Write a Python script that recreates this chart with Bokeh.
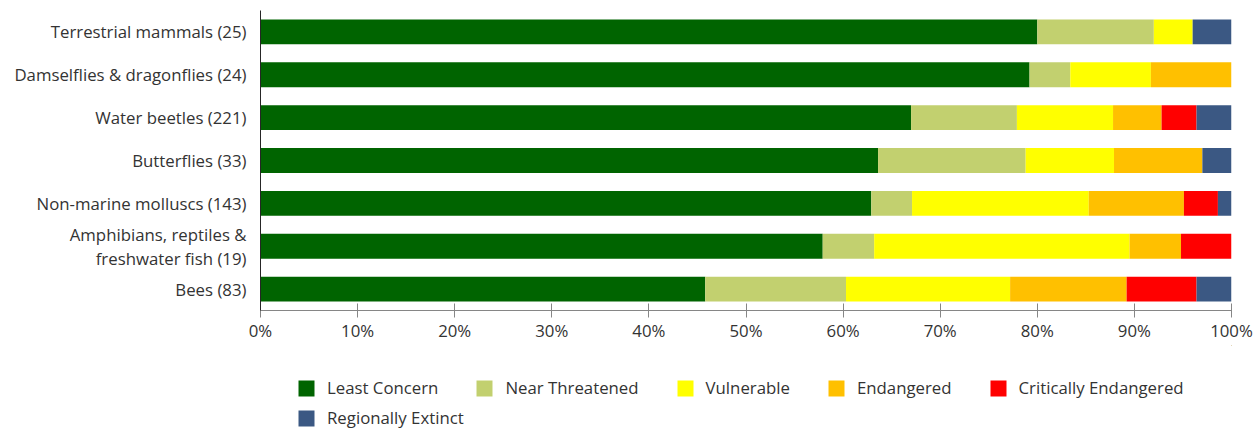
from bokeh.plotting import figure
from bokeh.layouts import column
from bokeh.models import (FactorRange, Range1d, Legend, LegendItem, PrintfTickFormatter,
                          FixedTicker, ColumnDataSource)
from bokeh.embed import file_html
from bokeh.resources import INLINE

groups = ["Terrestrial mammals (25)", "Damselflies & dragonflies (24)", "Water beetles (221)",
          "Butterflies (33)", "Non-marine molluscs (143)",
          "Amphibians, reptiles &\nfreshwater fish (19)", "Bees (83)"]
least_concern = [80.0, 79.2, 67.0, 63.6, 62.9, 57.9, 45.8]
near_threatened = [12.0, 4.2, 10.9, 15.2, 4.2, 5.3, 14.5]
vulnerable = [4.0, 8.3, 9.9, 9.1, 18.2, 26.3, 16.9]
endangered = [0.0, 8.3, 5.0, 9.1, 9.8, 5.3, 12.0]
critically_endangered = [0.0, 0.0, 3.6, 0.0, 3.5, 5.2, 7.2]
regionally_extinct = [4.0, 0.0, 3.6, 3.0, 1.4, 0.0, 3.6]
series_names = ["Least Concern", "Near Threatened", "Vulnerable", "Endangered",
                "Critically Endangered", "Regionally Extinct"]
colors = ["#006400", "#C2D06F", "#FFFF00", "#FFC000", "#FF0000", "#3B5883"]
x_ticks = [0, 10, 20, 30, 40, 50, 60, 70, 80, 90, 100]

keys = ["lc", "nt", "vu", "en", "ce", "re"]
src = ColumnDataSource(dict(group=groups, lc=least_concern, nt=near_threatened, vu=vulnerable,
                            en=endangered, ce=critically_endangered, re=regionally_extinct))

FONT = "Open Sans"
FS = "16.8px"
TXT = "#333333"

p = figure(width=1259, height=345, output_backend="svg", toolbar_location=None,
           y_range=FactorRange(*list(reversed(groups))), x_range=Range1d(0, 100),
           min_border_left=260, min_border_right=28, min_border_top=10, min_border_bottom=35)
p.outline_line_color = None
p.grid.visible = False

rs = p.hbar_stack(keys, y="group", height=0.58, source=src, color=colors, line_color=None)

xa = p.xaxis[0]
xa.ticker = FixedTicker(ticks=x_ticks)
xa.formatter = PrintfTickFormatter(format="%d%%")
xa.axis_line_color = "#868686"
xa.major_tick_line_color = "#868686"
xa.major_tick_in = 7
xa.major_tick_out = 7
xa.minor_tick_line_color = None
xa.major_label_text_font = FONT
xa.major_label_text_font_size = FS
xa.major_label_text_color = TXT
xa.major_label_standoff = 1

ya = p.yaxis[0]
ya.axis_line_color = "#262626"
ya.major_tick_line_color = None
ya.minor_tick_line_color = None
ya.major_label_text_font = FONT
ya.major_label_text_font_size = FS
ya.major_label_text_color = TXT
ya.major_label_text_line_height = 1.03
ya.major_label_standoff = 8

# legend strip below the chart (its frame is aligned with the chart's frame)
lf = figure(width=1259, height=83, output_backend="svg", toolbar_location=None,
            x_range=Range1d(0, 1), y_range=Range1d(0, 1), x_axis_type=None, y_axis_type=None,
            min_border_left=0, min_border_right=0, min_border_top=0, min_border_bottom=0)
lf.outline_line_color = None
lf.grid.visible = False
# legend swatch proxies, kept outside the visible range
proxy_src = ColumnDataSource(dict(y=[5], left=[5], right=[6]))
proxies = [lf.hbar(y="y", left="left", right="right", height=0.5, source=proxy_src,
                   color=c, line_color=None) for c in colors]

def mk_legend(items, loc):
    return Legend(items=items, orientation="horizontal", location=loc,
                  glyph_width=20, glyph_height=20, label_standoff=11, spacing=36,
                  label_text_font=FONT, label_text_font_size=FS, label_text_color=TXT,
                  border_line_color=None, background_fill_alpha=0,
                  margin=0, padding=0)

leg1 = mk_legend([LegendItem(label=n, renderers=[r]) for n, r in zip(series_names[:5], proxies[:5])],
                 (36, 29))
leg2 = mk_legend([LegendItem(label=series_names[5], renderers=[proxies[5]])], (36, -1))
lf.add_layout(leg1, "center")
lf.add_layout(leg2, "center")

open("out.html", "w").write(file_html(column(p, lf, spacing=0), INLINE))
